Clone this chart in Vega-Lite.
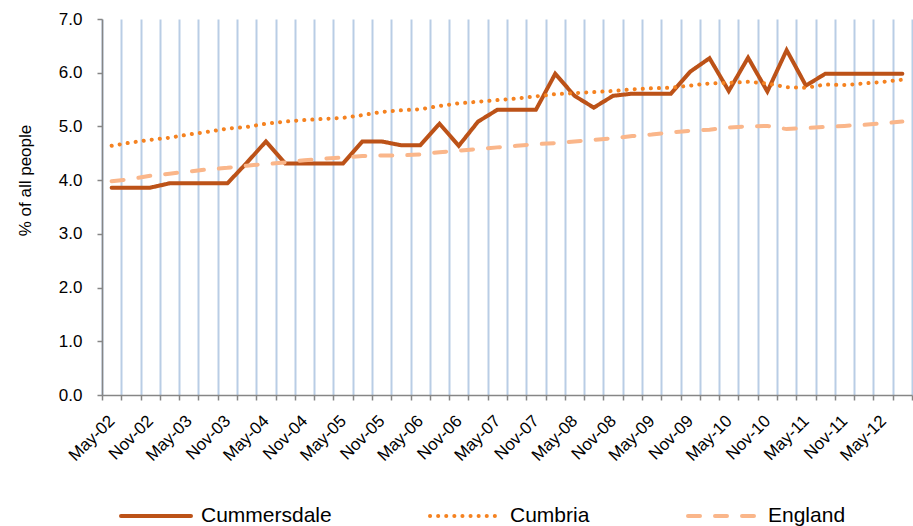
{
  "$schema": "https://vega.github.io/schema/vega-lite/v6.json",
  "width": 810,
  "height": 376,
  "autosize": "none",
  "padding": {"left": 102, "top": 19, "right": 1, "bottom": 131},
  "background": "white",
  "config": {"font": "Liberation Sans", "view": {"stroke": null}},
  "data": {"values": [
    {"q": "May-02", "Cummersdale": 3.86, "Cumbria": 4.64, "England": 3.98},
    {"q": "Aug-02", "Cummersdale": 3.86, "Cumbria": 4.70, "England": 4.02},
    {"q": "Nov-02", "Cummersdale": 3.86, "Cumbria": 4.75, "England": 4.08},
    {"q": "Feb-03", "Cummersdale": 3.94, "Cumbria": 4.79, "England": 4.12},
    {"q": "May-03", "Cummersdale": 3.94, "Cumbria": 4.85, "England": 4.16},
    {"q": "Aug-03", "Cummersdale": 3.94, "Cumbria": 4.90, "England": 4.20},
    {"q": "Nov-03", "Cummersdale": 3.94, "Cumbria": 4.96, "England": 4.23},
    {"q": "Feb-04", "Cummersdale": 4.32, "Cumbria": 4.99, "England": 4.27},
    {"q": "May-04", "Cummersdale": 4.72, "Cumbria": 5.05, "England": 4.30},
    {"q": "Aug-04", "Cummersdale": 4.31, "Cumbria": 5.09, "England": 4.33},
    {"q": "Nov-04", "Cummersdale": 4.31, "Cumbria": 5.12, "England": 4.37},
    {"q": "Feb-05", "Cummersdale": 4.31, "Cumbria": 5.14, "England": 4.40},
    {"q": "May-05", "Cummersdale": 4.31, "Cumbria": 5.16, "England": 4.42},
    {"q": "Aug-05", "Cummersdale": 4.72, "Cumbria": 5.21, "England": 4.45},
    {"q": "Nov-05", "Cummersdale": 4.72, "Cumbria": 5.27, "England": 4.46},
    {"q": "Feb-06", "Cummersdale": 4.65, "Cumbria": 5.30, "England": 4.46},
    {"q": "May-06", "Cummersdale": 4.65, "Cumbria": 5.32, "England": 4.48},
    {"q": "Aug-06", "Cummersdale": 5.05, "Cumbria": 5.38, "England": 4.52},
    {"q": "Nov-06", "Cummersdale": 4.64, "Cumbria": 5.43, "England": 4.55},
    {"q": "Feb-07", "Cummersdale": 5.09, "Cumbria": 5.46, "England": 4.58},
    {"q": "May-07", "Cummersdale": 5.31, "Cumbria": 5.49, "England": 4.61},
    {"q": "Aug-07", "Cummersdale": 5.31, "Cumbria": 5.52, "England": 4.64},
    {"q": "Nov-07", "Cummersdale": 5.31, "Cumbria": 5.56, "England": 4.67},
    {"q": "Feb-08", "Cummersdale": 5.98, "Cumbria": 5.60, "England": 4.69},
    {"q": "May-08", "Cummersdale": 5.57, "Cumbria": 5.62, "England": 4.72},
    {"q": "Aug-08", "Cummersdale": 5.35, "Cumbria": 5.64, "England": 4.75},
    {"q": "Nov-08", "Cummersdale": 5.57, "Cumbria": 5.66, "England": 4.78},
    {"q": "Feb-09", "Cummersdale": 5.61, "Cumbria": 5.69, "England": 4.82},
    {"q": "May-09", "Cummersdale": 5.61, "Cumbria": 5.71, "England": 4.85},
    {"q": "Aug-09", "Cummersdale": 5.61, "Cumbria": 5.72, "England": 4.89},
    {"q": "Nov-09", "Cummersdale": 6.02, "Cumbria": 5.76, "England": 4.92},
    {"q": "Feb-10", "Cummersdale": 6.27, "Cumbria": 5.80, "England": 4.94},
    {"q": "May-10", "Cummersdale": 5.66, "Cumbria": 5.81, "England": 4.98},
    {"q": "Aug-10", "Cummersdale": 6.28, "Cumbria": 5.83, "England": 5.00},
    {"q": "Nov-10", "Cummersdale": 5.65, "Cumbria": 5.80, "England": 5.01},
    {"q": "Feb-11", "Cummersdale": 6.42, "Cumbria": 5.73, "England": 4.95},
    {"q": "May-11", "Cummersdale": 5.76, "Cumbria": 5.72, "England": 4.97},
    {"q": "Aug-11", "Cummersdale": 5.98, "Cumbria": 5.78, "England": 4.99},
    {"q": "Nov-11", "Cummersdale": 5.98, "Cumbria": 5.77, "England": 5.01},
    {"q": "Feb-12", "Cummersdale": 5.98, "Cumbria": 5.80, "England": 5.03},
    {"q": "May-12", "Cummersdale": 5.98, "Cumbria": 5.83, "England": 5.06},
    {"q": "Aug-12", "Cummersdale": 5.98, "Cumbria": 5.87, "England": 5.09}
  ]},
  "transform": [{"fold": ["Cummersdale", "Cumbria", "England"], "as": ["series", "value"]}],
  "mark": {"type": "line", "strokeWidth": 4, "strokeCap": "round"},
  "encoding": {
    "x": {
      "field": "q", "type": "ordinal", "sort": null, "bandPosition": 0.5,
      "scale": {"type": "band", "paddingInner": 0, "paddingOuter": 0},
      "axis": {
        "title": null, "labelAngle": -45, "labelAlign": "right", "labelBaseline": "middle",
        "labelFontSize": 17, "labelColor": "#000000", "labelPadding": 18, "labelOverlap": false,
        "labelExpr": "indexof(datum.label, 'May') == 0 || indexof(datum.label, 'Nov') == 0 ? datum.label : ''",
        "tickBand": "extent", "grid": true, "gridColor": "#B9CDE5", "gridWidth": 2,
        "domainColor": "#868686", "domainWidth": 1.5, "tickColor": "#868686", "tickSize": 5, "tickWidth": 1.5
      }
    },
    "y": {
      "field": "value", "type": "quantitative",
      "scale": {"domain": [0, 7], "nice": false, "zero": true},
      "axis": {
        "title": "% of all people", "values": [0, 1, 2, 3, 4, 5, 6, 7], "format": ".1f", "grid": false,
        "labelFontSize": 17, "labelColor": "#000000", "labelPadding": 15,
        "tickSize": 5, "tickColor": "#868686", "tickWidth": 1.5, "domainColor": "#868686", "domainWidth": 1.5,
        "titleFontSize": 17, "titleFontWeight": "normal", "titleColor": "#000000",
        "titleX": -77, "titleY": 161, "titleBaseline": "middle", "titleAlign": "center", "titleAngle": -90
      }
    },
    "color": {
      "field": "series", "type": "nominal",
      "scale": {"domain": ["Cummersdale", "Cumbria", "England"], "range": ["#BC5218", "#F58220", "#FAB68A"]},
      "legend": {
        "title": null, "orient": "none", "legendX": 17, "legendY": 460, "direction": "horizontal",
        "symbolType": "stroke", "symbolSize": 4900, "symbolStrokeWidth": 4,
        "labelFontSize": 21, "labelColor": "#000000", "labelOffset": 8, "columnPadding": 90, "labelLimit": 300,
        "encode": {"symbols": {"update": {"strokeCap": {"value": "round"}, "strokeWidth": {"value": 4}}}}
      }
    },
    "strokeDash": {
      "field": "series", "type": "nominal",
      "scale": {"domain": ["Cummersdale", "Cumbria", "England"], "range": [[1, 0], [0.1, 8], [12, 15]]},
      "legend": {
        "title": null, "orient": "none", "legendX": 17, "legendY": 460, "direction": "horizontal",
        "symbolType": "stroke", "symbolSize": 4900, "symbolStrokeWidth": 4,
        "labelFontSize": 21, "labelColor": "#000000", "labelOffset": 8, "columnPadding": 90, "labelLimit": 300,
        "encode": {"symbols": {"update": {"strokeCap": {"value": "round"}, "strokeWidth": {"value": 4}}}}
      }
    }
  }
}
